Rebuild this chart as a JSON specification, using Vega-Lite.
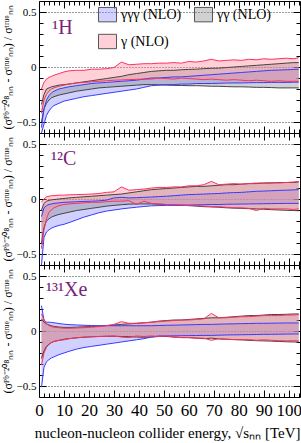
{
"$schema": "https://vega.github.io/schema/vega-lite/v6.json",
"padding": {"left": 0, "top": 0, "right": 2, "bottom": 2},
"spacing": 0,
"bounds": "flush",
"config": {"view": {"stroke": "black", "strokeWidth": 1}, "font": "Liberation Serif", "axis": {"domain": false, "tickColor": "black", "labelColor": "black", "titleColor": "black", "labelFont": "Liberation Serif", "titleFont": "Liberation Serif", "titleFontWeight": "normal"}},
"datasets": {
"H": [
{"x":1,"bl":-0.6,"bh":-0.55,"gl":-0.5,"gh":-0.34,"rl":-0.42,"rh":-0.2},
{"x":2,"bl":-0.52,"bh":-0.38,"gl":-0.38,"gh":-0.25,"rl":-0.3,"rh":-0.14},
{"x":3,"bl":-0.44,"bh":-0.3,"gl":-0.33,"gh":-0.2,"rl":-0.25,"rh":-0.11},
{"x":4,"bl":-0.4,"bh":-0.26,"gl":-0.3,"gh":-0.19,"rl":-0.22,"rh":-0.095},
{"x":5,"bl":-0.37,"bh":-0.235,"gl":-0.28,"gh":-0.18,"rl":-0.2,"rh":-0.085},
{"x":6,"bl":-0.35,"bh":-0.22,"gl":-0.27,"gh":-0.175,"rl":-0.19,"rh":-0.075},
{"x":8,"bl":-0.33,"bh":-0.2,"gl":-0.255,"gh":-0.165,"rl":-0.175,"rh":-0.06},
{"x":10,"bl":-0.31,"bh":-0.19,"gl":-0.245,"gh":-0.16,"rl":-0.165,"rh":-0.045},
{"x":12,"bl":-0.3,"bh":-0.18,"gl":-0.235,"gh":-0.155,"rl":-0.155,"rh":-0.035},
{"x":15,"bl":-0.285,"bh":-0.17,"gl":-0.22,"gh":-0.145,"rl":-0.145,"rh":-0.03},
{"x":18,"bl":-0.27,"bh":-0.16,"gl":-0.21,"gh":-0.135,"rl":-0.14,"rh":-0.03},
{"x":21,"bl":-0.26,"bh":-0.15,"gl":-0.2,"gh":-0.125,"rl":-0.135,"rh":-0.02},
{"x":24,"bl":-0.25,"bh":-0.145,"gl":-0.19,"gh":-0.115,"rl":-0.13,"rh":-0.02},
{"x":27,"bl":-0.24,"bh":-0.14,"gl":-0.185,"gh":-0.105,"rl":-0.125,"rh":-0.015},
{"x":30,"bl":-0.23,"bh":-0.135,"gl":-0.18,"gh":-0.095,"rl":-0.12,"rh":-0.005},
{"x":33,"bl":-0.22,"bh":-0.13,"gl":-0.175,"gh":-0.085,"rl":-0.118,"rh":0.045},
{"x":36,"bl":-0.21,"bh":-0.125,"gl":-0.17,"gh":-0.07,"rl":-0.115,"rh":0.02},
{"x":39,"bl":-0.2,"bh":-0.12,"gl":-0.165,"gh":-0.06,"rl":-0.112,"rh":0.025},
{"x":42,"bl":-0.185,"bh":-0.11,"gl":-0.16,"gh":-0.05,"rl":-0.11,"rh":0.03},
{"x":45,"bl":-0.17,"bh":-0.1,"gl":-0.16,"gh":-0.04,"rl":-0.11,"rh":0.03},
{"x":48,"bl":-0.165,"bh":-0.1,"gl":-0.162,"gh":-0.035,"rl":-0.1,"rh":0.035},
{"x":51,"bl":-0.16,"bh":-0.095,"gl":-0.165,"gh":-0.03,"rl":-0.105,"rh":0.035},
{"x":54,"bl":-0.16,"bh":-0.09,"gl":-0.167,"gh":-0.03,"rl":-0.11,"rh":0.04},
{"x":57,"bl":-0.155,"bh":-0.09,"gl":-0.168,"gh":-0.025,"rl":-0.1,"rh":0.035},
{"x":60,"bl":-0.155,"bh":-0.085,"gl":-0.17,"gh":-0.022,"rl":-0.105,"rh":0.05},
{"x":63,"bl":-0.15,"bh":-0.08,"gl":-0.17,"gh":-0.02,"rl":-0.11,"rh":0.045},
{"x":66,"bl":-0.15,"bh":-0.075,"gl":-0.172,"gh":-0.015,"rl":-0.115,"rh":0.055},
{"x":69,"bl":-0.15,"bh":-0.07,"gl":-0.175,"gh":-0.012,"rl":-0.11,"rh":0.07},
{"x":72,"bl":-0.148,"bh":-0.065,"gl":-0.175,"gh":-0.01,"rl":-0.115,"rh":0.055},
{"x":75,"bl":-0.146,"bh":-0.06,"gl":-0.178,"gh":-0.005,"rl":-0.12,"rh":0.06},
{"x":78,"bl":-0.145,"bh":-0.055,"gl":-0.18,"gh":0,"rl":-0.115,"rh":0.065},
{"x":81,"bl":-0.145,"bh":-0.05,"gl":-0.18,"gh":0.005,"rl":-0.12,"rh":0.06},
{"x":84,"bl":-0.143,"bh":-0.045,"gl":-0.182,"gh":0.01,"rl":-0.125,"rh":0.07},
{"x":87,"bl":-0.142,"bh":-0.04,"gl":-0.185,"gh":0.015,"rl":-0.12,"rh":0.065},
{"x":90,"bl":-0.142,"bh":-0.035,"gl":-0.185,"gh":0.02,"rl":-0.125,"rh":0.075},
{"x":93,"bl":-0.14,"bh":-0.03,"gl":-0.187,"gh":0.025,"rl":-0.13,"rh":0.07},
{"x":96,"bl":-0.14,"bh":-0.028,"gl":-0.19,"gh":0.03,"rl":-0.125,"rh":0.075},
{"x":99,"bl":-0.14,"bh":-0.025,"gl":-0.19,"gh":0.035,"rl":-0.13,"rh":0.08},
{"x":102,"bl":-0.138,"bh":-0.022,"gl":-0.19,"gh":0.04,"rl":-0.13,"rh":0.075},
{"x":104,"bl":-0.138,"bh":-0.02,"gl":-0.19,"gh":0.04,"rl":-0.13,"rh":0.085}
],
"C": [
{"x":1,"bl":-0.6,"bh":-0.16,"gl":-0.4,"gh":-0.1,"rl":-0.45,"rh":-0.03},
{"x":2,"bl":-0.35,"bh":-0.08,"gl":-0.26,"gh":-0.04,"rl":-0.28,"rh":0},
{"x":3,"bl":-0.3,"bh":-0.06,"gl":-0.2,"gh":-0.02,"rl":-0.18,"rh":0.02},
{"x":4,"bl":-0.28,"bh":-0.05,"gl":-0.18,"gh":-0.012,"rl":-0.12,"rh":0.025},
{"x":5,"bl":-0.265,"bh":-0.045,"gl":-0.165,"gh":-0.008,"rl":-0.1,"rh":0.03},
{"x":6,"bl":-0.255,"bh":-0.04,"gl":-0.155,"gh":-0.005,"rl":-0.08,"rh":0.03},
{"x":8,"bl":-0.24,"bh":-0.035,"gl":-0.14,"gh":0,"rl":-0.06,"rh":0.035},
{"x":10,"bl":-0.23,"bh":-0.03,"gl":-0.13,"gh":0.005,"rl":-0.05,"rh":0.035},
{"x":12,"bl":-0.215,"bh":-0.028,"gl":-0.12,"gh":0.01,"rl":-0.045,"rh":0.038},
{"x":15,"bl":-0.19,"bh":-0.025,"gl":-0.105,"gh":0.015,"rl":-0.04,"rh":0.04},
{"x":18,"bl":-0.165,"bh":-0.022,"gl":-0.095,"gh":0.02,"rl":-0.035,"rh":0.042},
{"x":21,"bl":-0.145,"bh":-0.02,"gl":-0.085,"gh":0.025,"rl":-0.03,"rh":0.045},
{"x":24,"bl":-0.125,"bh":-0.017,"gl":-0.075,"gh":0.03,"rl":-0.03,"rh":0.05},
{"x":27,"bl":-0.11,"bh":-0.01,"gl":-0.065,"gh":0.035,"rl":-0.025,"rh":0.06},
{"x":30,"bl":-0.1,"bh":0.01,"gl":-0.058,"gh":0.04,"rl":-0.02,"rh":0.065},
{"x":33,"bl":-0.09,"bh":0.015,"gl":-0.052,"gh":0.045,"rl":-0.02,"rh":0.11},
{"x":36,"bl":-0.082,"bh":0.01,"gl":-0.047,"gh":0.055,"rl":-0.015,"rh":0.08},
{"x":39,"bl":-0.075,"bh":0.012,"gl":-0.045,"gh":0.065,"rl":-0.05,"rh":0.085},
{"x":42,"bl":-0.068,"bh":0.015,"gl":-0.045,"gh":0.075,"rl":-0.02,"rh":0.09},
{"x":45,"bl":-0.062,"bh":0.018,"gl":-0.045,"gh":0.085,"rl":-0.04,"rh":0.1},
{"x":48,"bl":-0.06,"bh":0.022,"gl":-0.048,"gh":0.09,"rl":-0.045,"rh":0.105},
{"x":51,"bl":-0.058,"bh":0.025,"gl":-0.05,"gh":0.095,"rl":-0.05,"rh":0.105},
{"x":54,"bl":-0.057,"bh":0.03,"gl":-0.055,"gh":0.1,"rl":-0.05,"rh":0.11},
{"x":57,"bl":-0.055,"bh":0.035,"gl":-0.058,"gh":0.105,"rl":-0.055,"rh":0.11},
{"x":60,"bl":-0.055,"bh":0.04,"gl":-0.06,"gh":0.11,"rl":-0.06,"rh":0.12},
{"x":63,"bl":-0.053,"bh":0.042,"gl":-0.065,"gh":0.115,"rl":-0.06,"rh":0.12},
{"x":66,"bl":-0.052,"bh":0.045,"gl":-0.07,"gh":0.115,"rl":-0.065,"rh":0.13},
{"x":69,"bl":-0.05,"bh":0.048,"gl":-0.072,"gh":0.12,"rl":-0.07,"rh":0.16},
{"x":72,"bl":-0.05,"bh":0.05,"gl":-0.075,"gh":0.125,"rl":-0.07,"rh":0.13},
{"x":75,"bl":-0.048,"bh":0.055,"gl":-0.08,"gh":0.13,"rl":-0.075,"rh":0.135},
{"x":78,"bl":-0.047,"bh":0.058,"gl":-0.083,"gh":0.13,"rl":-0.08,"rh":0.14},
{"x":81,"bl":-0.046,"bh":0.06,"gl":-0.085,"gh":0.135,"rl":-0.08,"rh":0.135},
{"x":84,"bl":-0.045,"bh":0.065,"gl":-0.088,"gh":0.14,"rl":-0.085,"rh":0.14},
{"x":87,"bl":-0.044,"bh":0.07,"gl":-0.09,"gh":0.14,"rl":-0.105,"rh":0.145},
{"x":90,"bl":-0.043,"bh":0.072,"gl":-0.093,"gh":0.145,"rl":-0.085,"rh":0.145},
{"x":93,"bl":-0.042,"bh":0.075,"gl":-0.097,"gh":0.145,"rl":-0.09,"rh":0.15},
{"x":96,"bl":-0.041,"bh":0.078,"gl":-0.1,"gh":0.15,"rl":-0.09,"rh":0.145},
{"x":99,"bl":-0.04,"bh":0.08,"gl":-0.103,"gh":0.15,"rl":-0.09,"rh":0.15},
{"x":102,"bl":-0.04,"bh":0.083,"gl":-0.105,"gh":0.15,"rl":-0.095,"rh":0.155},
{"x":104,"bl":-0.04,"bh":0.085,"gl":-0.107,"gh":0.155,"rl":-0.09,"rh":0.16}
],
"Xe": [
{"x":1,"bl":-0.51,"bh":0.23,"gl":-0.25,"gh":0.11,"rl":-0.31,"rh":0.155},
{"x":2,"bl":-0.33,"bh":0.1,"gl":-0.18,"gh":0.08,"rl":-0.2,"rh":0.1},
{"x":3,"bl":-0.28,"bh":0.08,"gl":-0.14,"gh":0.065,"rl":-0.15,"rh":0.065},
{"x":4,"bl":-0.26,"bh":0.08,"gl":-0.12,"gh":0.055,"rl":-0.12,"rh":0.05},
{"x":5,"bl":-0.245,"bh":0.078,"gl":-0.105,"gh":0.048,"rl":-0.105,"rh":0.04},
{"x":6,"bl":-0.235,"bh":0.075,"gl":-0.095,"gh":0.042,"rl":-0.095,"rh":0.035},
{"x":8,"bl":-0.215,"bh":0.068,"gl":-0.085,"gh":0.036,"rl":-0.085,"rh":0.03},
{"x":10,"bl":-0.2,"bh":0.062,"gl":-0.075,"gh":0.033,"rl":-0.08,"rh":0.025},
{"x":12,"bl":-0.185,"bh":0.058,"gl":-0.07,"gh":0.033,"rl":-0.07,"rh":0.025},
{"x":15,"bl":-0.165,"bh":0.055,"gl":-0.062,"gh":0.035,"rl":-0.062,"rh":0.027},
{"x":18,"bl":-0.15,"bh":0.052,"gl":-0.057,"gh":0.038,"rl":-0.055,"rh":0.03},
{"x":21,"bl":-0.14,"bh":0.05,"gl":-0.053,"gh":0.04,"rl":-0.052,"rh":0.035},
{"x":24,"bl":-0.13,"bh":0.048,"gl":-0.05,"gh":0.045,"rl":-0.05,"rh":0.04},
{"x":27,"bl":-0.12,"bh":0.048,"gl":-0.048,"gh":0.05,"rl":-0.048,"rh":0.048},
{"x":30,"bl":-0.11,"bh":0.048,"gl":-0.048,"gh":0.055,"rl":-0.045,"rh":0.06},
{"x":33,"bl":-0.1,"bh":0.048,"gl":-0.05,"gh":0.06,"rl":-0.055,"rh":0.085},
{"x":36,"bl":-0.09,"bh":0.048,"gl":-0.052,"gh":0.065,"rl":-0.06,"rh":0.07},
{"x":39,"bl":-0.08,"bh":0.048,"gl":-0.055,"gh":0.07,"rl":-0.045,"rh":0.07},
{"x":42,"bl":-0.07,"bh":0.048,"gl":-0.057,"gh":0.075,"rl":-0.05,"rh":0.075},
{"x":45,"bl":-0.055,"bh":0.048,"gl":-0.055,"gh":0.08,"rl":-0.045,"rh":0.08},
{"x":48,"bl":-0.045,"bh":0.05,"gl":-0.05,"gh":0.09,"rl":-0.05,"rh":0.085},
{"x":51,"bl":-0.045,"bh":0.052,"gl":-0.05,"gh":0.095,"rl":-0.045,"rh":0.09},
{"x":54,"bl":-0.044,"bh":0.053,"gl":-0.055,"gh":0.1,"rl":-0.055,"rh":0.095},
{"x":57,"bl":-0.043,"bh":0.055,"gl":-0.06,"gh":0.1,"rl":-0.06,"rh":0.1},
{"x":60,"bl":-0.042,"bh":0.056,"gl":-0.06,"gh":0.105,"rl":-0.06,"rh":0.1},
{"x":63,"bl":-0.041,"bh":0.058,"gl":-0.065,"gh":0.11,"rl":-0.065,"rh":0.105},
{"x":66,"bl":-0.04,"bh":0.06,"gl":-0.07,"gh":0.115,"rl":-0.065,"rh":0.11},
{"x":69,"bl":-0.04,"bh":0.06,"gl":-0.065,"gh":0.12,"rl":-0.085,"rh":0.16},
{"x":72,"bl":-0.038,"bh":0.062,"gl":-0.072,"gh":0.12,"rl":-0.07,"rh":0.12},
{"x":75,"bl":-0.036,"bh":0.064,"gl":-0.075,"gh":0.125,"rl":-0.075,"rh":0.12},
{"x":78,"bl":-0.035,"bh":0.065,"gl":-0.078,"gh":0.13,"rl":-0.078,"rh":0.125},
{"x":81,"bl":-0.034,"bh":0.067,"gl":-0.08,"gh":0.135,"rl":-0.08,"rh":0.13},
{"x":84,"bl":-0.033,"bh":0.068,"gl":-0.085,"gh":0.14,"rl":-0.078,"rh":0.13},
{"x":87,"bl":-0.032,"bh":0.07,"gl":-0.088,"gh":0.14,"rl":-0.085,"rh":0.135},
{"x":90,"bl":-0.03,"bh":0.07,"gl":-0.09,"gh":0.145,"rl":-0.08,"rh":0.14},
{"x":93,"bl":-0.03,"bh":0.071,"gl":-0.092,"gh":0.15,"rl":-0.085,"rh":0.14},
{"x":96,"bl":-0.029,"bh":0.072,"gl":-0.095,"gh":0.15,"rl":-0.088,"rh":0.14},
{"x":99,"bl":-0.028,"bh":0.073,"gl":-0.098,"gh":0.152,"rl":-0.09,"rh":0.145},
{"x":102,"bl":-0.027,"bh":0.073,"gl":-0.1,"gh":0.155,"rl":-0.088,"rh":0.145},
{"x":104,"bl":-0.027,"bh":0.073,"gl":-0.1,"gh":0.155,"rl":-0.09,"rh":0.15}
]
},
"vconcat": [
{
"width": 261, "height": 132,
"data": {"name": "H"},
"layer": [
{"mark": {"type": "area", "fillOpacity": 0.4, "clip": true},
 "encoding": {
  "x": {"field": "x", "type": "quantitative", "scale": {"domain": [0, 104.5], "nice": false, "zero": false},
   "axis": {"orient": "bottom", "values": [0,2,4,6,8,10,12,14,16,18,20,22,24,26,28,30,32,34,36,38,40,42,44,46,48,50,52,54,56,58,60,62,64,66,68,70,72,74,76,78,80,82,84,86,88,90,92,94,96,98,100,102,104], "labels": false, "grid": false, "title": null, "tickSize": {"condition": {"test": "datum.value % 10 === 0", "value": -7}, "value": -4}}},
  "y": {"field": "bl", "type": "quantitative", "scale": {"domain": [-0.6, 0.6], "nice": false, "zero": false},
   "axis": {"orient": "left", "values": [-0.5, 0, 0.5], "format": ".1~f", "labelFontSize": 11, "labelPadding": 10, "labelOverlap": false, "labelBound": false, "labelFlush": false, "tickSize": -7, "grid": true, "gridColor": "black", "gridDash": [1, 2], "gridWidth": 0.8, "title": "(σᴾᵇ⁻²⁰⁸ₙₙ - σᵗʳᵘᵉₙₙ) / σᵗʳᵘᵉₙₙ", "titleFontSize": 12, "titlePadding": 2}},
  "y2": {"field": "bh"},
  "color": {"datum": "γγγ (NLO)", "scale": {"domain": ["γγγ (NLO)", "γ (NLO)", "γγ (NLO)"], "range": ["#8c8cff", "#ff8a9a", "#8c8c8c"]},
   "legend": {"title": null, "orient": "none", "legendX": 59, "legendY": 4, "columns": 2, "columnPadding": 10, "rowPadding": 8, "symbolType": "M-1,-0.8H1V0.8H-1Z", "symbolSize": 324, "symbolStrokeColor": "#555555", "symbolStrokeWidth": 1, "labelFont": "Liberation Serif", "labelFontSize": 14, "labelColor": "black", "labelOffset": 4, "labelLimit": 200,
    "encode": {"symbols": {"update": {"fillOpacity": {"value": 0.4}, "strokeOpacity": {"value": 1}, "opacity": {"value": 1}}}}}}
 }},
{"mark": {"type": "area", "fillOpacity": 0.4, "clip": true},
 "encoding": {"x": {"field": "x", "type": "quantitative", "axis": null}, "y": {"field": "gl", "type": "quantitative", "axis": null}, "y2": {"field": "gh"}, "color": {"datum": "γγ (NLO)"}}},
{"mark": {"type": "area", "fillOpacity": 0.4, "clip": true},
 "encoding": {"x": {"field": "x", "type": "quantitative", "axis": null}, "y": {"field": "rl", "type": "quantitative", "axis": null}, "y2": {"field": "rh"}, "color": {"datum": "γ (NLO)"}}},
{"mark": {"type": "line", "color": "#444444", "strokeWidth": 1, "clip": true}, "encoding": {"x": {"field": "x", "type": "quantitative", "axis": null}, "y": {"field": "gl", "type": "quantitative", "axis": {"orient": "left", "values": [-0.4,-0.3,-0.2,-0.1,0.1,0.2,0.3,0.4], "labels": false, "grid": false, "title": null, "tickSize": -4}}}},
{"mark": {"type": "line", "color": "#444444", "strokeWidth": 1, "clip": true}, "encoding": {"x": {"field": "x", "type": "quantitative", "axis": null}, "y": {"field": "gh", "type": "quantitative", "axis": null}}},
{"mark": {"type": "line", "color": "#3a3aff", "strokeWidth": 1, "clip": true}, "encoding": {"x": {"field": "x", "type": "quantitative", "axis": null}, "y": {"field": "bl", "type": "quantitative", "axis": null}}},
{"mark": {"type": "line", "color": "#3a3aff", "strokeWidth": 1, "clip": true}, "encoding": {"x": {"field": "x", "type": "quantitative", "axis": null}, "y": {"field": "bh", "type": "quantitative", "axis": null}}},
{"mark": {"type": "line", "color": "#ff3060", "strokeWidth": 1, "clip": true}, "encoding": {"x": {"field": "x", "type": "quantitative", "axis": null}, "y": {"field": "rl", "type": "quantitative", "axis": null}}},
{"mark": {"type": "line", "color": "#ff3060", "strokeWidth": 1, "clip": true}, "encoding": {"x": {"field": "x", "type": "quantitative", "axis": null}, "y": {"field": "rh", "type": "quantitative", "axis": null}}},
{"data": {"values": [{"x": 5.3, "y": 0.3, "t": "¹H"}]},
 "mark": {"type": "text", "align": "left", "baseline": "alphabetic", "fontSize": 20, "font": "Liberation Serif", "color": "#7a1f7a"},
 "encoding": {
  "x": {"field": "x", "type": "quantitative", "axis": {"orient": "top", "values": [0,2,4,6,8,10,12,14,16,18,20,22,24,26,28,30,32,34,36,38,40,42,44,46,48,50,52,54,56,58,60,62,64,66,68,70,72,74,76,78,80,82,84,86,88,90,92,94,96,98,100,102,104], "labels": false, "grid": false, "title": null, "tickSize": {"condition": {"test": "datum.value % 10 === 0", "value": -7}, "value": -4}}},
  "y": {"field": "y", "type": "quantitative", "axis": {"orient": "right", "values": [-0.5,-0.4,-0.3,-0.2,-0.1,0,0.1,0.2,0.3,0.4,0.5], "labels": false, "grid": false, "title": null, "tickSize": {"condition": {"test": "abs(datum.value) === 0.5 || datum.value === 0", "value": -7}, "value": -4}}},
  "text": {"field": "t"}}}
],
"resolve": {"axis": {"x": "independent", "y": "independent"}}
},
{
"width": 261, "height": 132,
"data": {"name": "C"},
"layer": [
{"mark": {"type": "area", "color": "#8c8cff", "fillOpacity": 0.4, "clip": true},
 "encoding": {
  "x": {"field": "x", "type": "quantitative", "scale": {"domain": [0, 104.5], "nice": false, "zero": false},
   "axis": {"orient": "bottom", "values": [0,2,4,6,8,10,12,14,16,18,20,22,24,26,28,30,32,34,36,38,40,42,44,46,48,50,52,54,56,58,60,62,64,66,68,70,72,74,76,78,80,82,84,86,88,90,92,94,96,98,100,102,104], "labels": false, "grid": false, "title": null, "tickSize": {"condition": {"test": "datum.value % 10 === 0", "value": -7}, "value": -4}}},
  "y": {"field": "bl", "type": "quantitative", "scale": {"domain": [-0.6, 0.6], "nice": false, "zero": false},
   "axis": {"orient": "left", "values": [-0.5, 0, 0.5], "format": ".1~f", "labelFontSize": 11, "labelPadding": 10, "labelOverlap": false, "labelBound": false, "labelFlush": false, "tickSize": -7, "grid": true, "gridColor": "black", "gridDash": [1, 2], "gridWidth": 0.8, "title": "(σᴾᵇ⁻²⁰⁸ₙₙ - σᵗʳᵘᵉₙₙ) / σᵗʳᵘᵉₙₙ", "titleFontSize": 12, "titlePadding": 2}},
  "y2": {"field": "bh"}
 }},
{"mark": {"type": "area", "color": "#8c8c8c", "fillOpacity": 0.4, "clip": true},
 "encoding": {"x": {"field": "x", "type": "quantitative", "axis": null}, "y": {"field": "gl", "type": "quantitative", "axis": null}, "y2": {"field": "gh"}}},
{"mark": {"type": "area", "color": "#ff8a9a", "fillOpacity": 0.4, "clip": true},
 "encoding": {"x": {"field": "x", "type": "quantitative", "axis": null}, "y": {"field": "rl", "type": "quantitative", "axis": null}, "y2": {"field": "rh"}}},
{"mark": {"type": "line", "color": "#444444", "strokeWidth": 1, "clip": true}, "encoding": {"x": {"field": "x", "type": "quantitative", "axis": null}, "y": {"field": "gl", "type": "quantitative", "axis": {"orient": "left", "values": [-0.4,-0.3,-0.2,-0.1,0.1,0.2,0.3,0.4], "labels": false, "grid": false, "title": null, "tickSize": -4}}}},
{"mark": {"type": "line", "color": "#444444", "strokeWidth": 1, "clip": true}, "encoding": {"x": {"field": "x", "type": "quantitative", "axis": null}, "y": {"field": "gh", "type": "quantitative", "axis": null}}},
{"mark": {"type": "line", "color": "#3a3aff", "strokeWidth": 1, "clip": true}, "encoding": {"x": {"field": "x", "type": "quantitative", "axis": null}, "y": {"field": "bl", "type": "quantitative", "axis": null}}},
{"mark": {"type": "line", "color": "#3a3aff", "strokeWidth": 1, "clip": true}, "encoding": {"x": {"field": "x", "type": "quantitative", "axis": null}, "y": {"field": "bh", "type": "quantitative", "axis": null}}},
{"mark": {"type": "line", "color": "#ff3060", "strokeWidth": 1, "clip": true}, "encoding": {"x": {"field": "x", "type": "quantitative", "axis": null}, "y": {"field": "rl", "type": "quantitative", "axis": null}}},
{"mark": {"type": "line", "color": "#ff3060", "strokeWidth": 1, "clip": true}, "encoding": {"x": {"field": "x", "type": "quantitative", "axis": null}, "y": {"field": "rh", "type": "quantitative", "axis": null}}},
{"data": {"values": [{"x": 4.8, "y": 0.31, "t": "¹²C"}]},
 "mark": {"type": "text", "align": "left", "baseline": "alphabetic", "fontSize": 20, "font": "Liberation Serif", "color": "#7a1f7a"},
 "encoding": {
  "x": {"field": "x", "type": "quantitative", "axis": {"orient": "top", "values": [0,2,4,6,8,10,12,14,16,18,20,22,24,26,28,30,32,34,36,38,40,42,44,46,48,50,52,54,56,58,60,62,64,66,68,70,72,74,76,78,80,82,84,86,88,90,92,94,96,98,100,102,104], "labels": false, "grid": false, "title": null, "tickSize": {"condition": {"test": "datum.value % 10 === 0", "value": -7}, "value": -4}}},
  "y": {"field": "y", "type": "quantitative", "axis": {"orient": "right", "values": [-0.5,-0.4,-0.3,-0.2,-0.1,0,0.1,0.2,0.3,0.4,0.5], "labels": false, "grid": false, "title": null, "tickSize": {"condition": {"test": "abs(datum.value) === 0.5 || datum.value === 0", "value": -7}, "value": -4}}},
  "text": {"field": "t"}}}
],
"resolve": {"axis": {"x": "independent", "y": "independent"}}
},
{
"width": 261, "height": 132,
"data": {"name": "Xe"},
"layer": [
{"mark": {"type": "area", "color": "#8c8cff", "fillOpacity": 0.4, "clip": true},
 "encoding": {
  "x": {"field": "x", "type": "quantitative", "scale": {"domain": [0, 104.5], "nice": false, "zero": false},
   "axis": {"orient": "bottom", "values": [0,2,4,6,8,10,12,14,16,18,20,22,24,26,28,30,32,34,36,38,40,42,44,46,48,50,52,54,56,58,60,62,64,66,68,70,72,74,76,78,80,82,84,86,88,90,92,94,96,98,100,102,104], "labelExpr": "datum.value % 10 === 0 ? datum.label : ''", "labelFontSize": 17, "labelPadding": 12, "labelFlush": false, "labelOverlap": false, "grid": false, "tickSize": {"condition": {"test": "datum.value % 10 === 0", "value": -7}, "value": -4},
    "title": "nucleon-nucleon collider energy, √sₙₙ [TeV]", "titleFontSize": 15, "titleAnchor": "end", "titlePadding": 4}},
  "y": {"field": "bl", "type": "quantitative", "scale": {"domain": [-0.6, 0.6], "nice": false, "zero": false},
   "axis": {"orient": "left", "values": [-0.5, 0, 0.5], "format": ".1~f", "labelFontSize": 11, "labelPadding": 10, "labelOverlap": false, "labelBound": false, "labelFlush": false, "tickSize": -7, "grid": true, "gridColor": "black", "gridDash": [1, 2], "gridWidth": 0.8, "title": "(σᴾᵇ⁻²⁰⁸ₙₙ - σᵗʳᵘᵉₙₙ) / σᵗʳᵘᵉₙₙ", "titleFontSize": 12, "titlePadding": 2}},
  "y2": {"field": "bh"}
 }},
{"mark": {"type": "area", "color": "#8c8c8c", "fillOpacity": 0.4, "clip": true},
 "encoding": {"x": {"field": "x", "type": "quantitative", "axis": null}, "y": {"field": "gl", "type": "quantitative", "axis": null}, "y2": {"field": "gh"}}},
{"mark": {"type": "area", "color": "#ff8a9a", "fillOpacity": 0.4, "clip": true},
 "encoding": {"x": {"field": "x", "type": "quantitative", "axis": null}, "y": {"field": "rl", "type": "quantitative", "axis": null}, "y2": {"field": "rh"}}},
{"mark": {"type": "line", "color": "#444444", "strokeWidth": 1, "clip": true}, "encoding": {"x": {"field": "x", "type": "quantitative", "axis": null}, "y": {"field": "gl", "type": "quantitative", "axis": {"orient": "left", "values": [-0.4,-0.3,-0.2,-0.1,0.1,0.2,0.3,0.4], "labels": false, "grid": false, "title": null, "tickSize": -4}}}},
{"mark": {"type": "line", "color": "#444444", "strokeWidth": 1, "clip": true}, "encoding": {"x": {"field": "x", "type": "quantitative", "axis": null}, "y": {"field": "gh", "type": "quantitative", "axis": null}}},
{"mark": {"type": "line", "color": "#3a3aff", "strokeWidth": 1, "clip": true}, "encoding": {"x": {"field": "x", "type": "quantitative", "axis": null}, "y": {"field": "bl", "type": "quantitative", "axis": null}}},
{"mark": {"type": "line", "color": "#3a3aff", "strokeWidth": 1, "clip": true}, "encoding": {"x": {"field": "x", "type": "quantitative", "axis": null}, "y": {"field": "bh", "type": "quantitative", "axis": null}}},
{"mark": {"type": "line", "color": "#ff3060", "strokeWidth": 1, "clip": true}, "encoding": {"x": {"field": "x", "type": "quantitative", "axis": null}, "y": {"field": "rl", "type": "quantitative", "axis": null}}},
{"mark": {"type": "line", "color": "#ff3060", "strokeWidth": 1, "clip": true}, "encoding": {"x": {"field": "x", "type": "quantitative", "axis": null}, "y": {"field": "rh", "type": "quantitative", "axis": null}}},
{"data": {"values": [{"x": 2.8, "y": 0.32, "t": "¹³¹Xe"}]},
 "mark": {"type": "text", "align": "left", "baseline": "alphabetic", "fontSize": 20, "font": "Liberation Serif", "color": "#7a1f7a"},
 "encoding": {
  "x": {"field": "x", "type": "quantitative", "axis": {"orient": "top", "values": [0,2,4,6,8,10,12,14,16,18,20,22,24,26,28,30,32,34,36,38,40,42,44,46,48,50,52,54,56,58,60,62,64,66,68,70,72,74,76,78,80,82,84,86,88,90,92,94,96,98,100,102,104], "labels": false, "grid": false, "title": null, "tickSize": {"condition": {"test": "datum.value % 10 === 0", "value": -7}, "value": -4}}},
  "y": {"field": "y", "type": "quantitative", "axis": {"orient": "right", "values": [-0.5,-0.4,-0.3,-0.2,-0.1,0,0.1,0.2,0.3,0.4,0.5], "labels": false, "grid": false, "title": null, "tickSize": {"condition": {"test": "abs(datum.value) === 0.5 || datum.value === 0", "value": -7}, "value": -4}}},
  "text": {"field": "t"}}}
],
"resolve": {"axis": {"x": "independent", "y": "independent"}}
}
]
}
